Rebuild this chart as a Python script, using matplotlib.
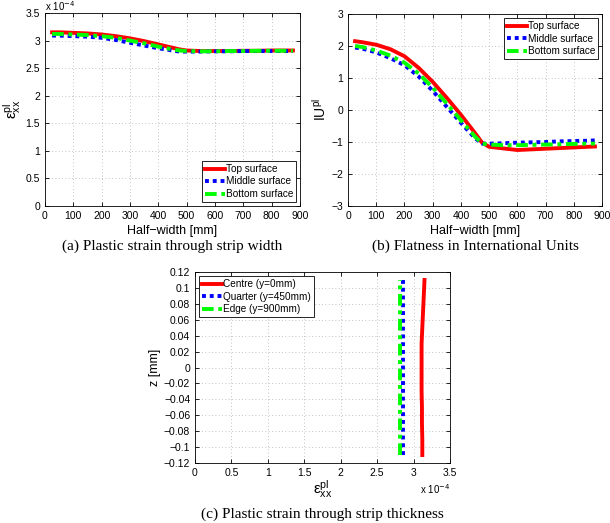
import matplotlib
matplotlib.use("Agg")
import matplotlib.pyplot as plt
import numpy as np

# ---- Data (strain values in units of 1e-4) ----
hw = [25, 50, 100, 150, 200, 250, 300, 350, 400, 450, 475, 500, 550, 600, 650, 700, 750, 800, 850, 875]
eps_top = [3.15, 3.15, 3.14, 3.13, 3.11, 3.08, 3.04, 2.99, 2.93, 2.87, 2.84, 2.82, 2.81, 2.81, 2.81, 2.815, 2.815, 2.82, 2.82, 2.82]
eps_mid = [3.09, 3.09, 3.08, 3.07, 3.05, 3.01, 2.96, 2.91, 2.86, 2.82, 2.80, 2.80, 2.80, 2.805, 2.805, 2.81, 2.81, 2.81, 2.81, 2.81]
eps_bot = [3.12, 3.12, 3.11, 3.10, 3.08, 3.05, 3.00, 2.95, 2.89, 2.84, 2.82, 2.81, 2.805, 2.805, 2.81, 2.81, 2.815, 2.815, 2.815, 2.815]

iu_top = [2.15, 2.12, 2.04, 1.90, 1.68, 1.32, 0.88, 0.38, -0.15, -0.72, -1.02, -1.15, -1.2, -1.25, -1.23, -1.21, -1.19, -1.17, -1.15, -1.14]
iu_mid = [1.95, 1.92, 1.80, 1.62, 1.40, 1.05, 0.60, 0.10, -0.40, -0.88, -1.05, -1.05, -1.04, -1.02, -1.01, -1.0, -0.98, -0.97, -0.96, -0.95]
iu_bot = [2.00, 1.97, 1.86, 1.70, 1.48, 1.14, 0.70, 0.20, -0.32, -0.83, -1.05, -1.08, -1.1, -1.1, -1.09, -1.08, -1.07, -1.06, -1.05, -1.05]

z = [-0.11, -0.09, -0.07, -0.05, -0.03, -0.01, 0.0, 0.01, 0.03, 0.05, 0.07, 0.09, 0.11]
c_centre = [3.12, 3.12, 3.115, 3.115, 3.11, 3.11, 3.11, 3.11, 3.11, 3.12, 3.13, 3.14, 3.15]
c_quarter = [2.86] * len(z)
c_edge = [2.81] * len(z)

W, H = 610, 523
fig = plt.figure(figsize=(W / 100, H / 100), dpi=100)

sans = ['Liberation Sans', 'DejaVu Sans']
serif = ['Liberation Serif', 'DejaVu Serif']
tfs = 7.5
lfs = 9

def style(ax):
    ax.grid(True, linestyle=(0, (1, 3)), color='#b0b0b0', linewidth=0.6)
    ax.tick_params(direction='in', labelsize=tfs, length=3, width=0.6, top=True, right=True)
    for s in ax.spines.values():
        s.set_linewidth(0.6)
    for lab in ax.get_xticklabels() + ax.get_yticklabels():
        lab.set_family(sans)

red = dict(color='#ff0000', linestyle='-', linewidth=2.8)
blue = dict(color='#0000ff', linestyle=(0, (1, 1)), linewidth=2.8)
green = dict(color='#00ff00', linestyle=(0, (3, 1.2, 1, 1.2)), linewidth=2.8)

def leg(ax, loc, **kw):
    l = ax.legend(loc=loc, prop={'family': sans, 'size': 7.2}, handlelength=2.0, handletextpad=0.1,
                  labelspacing=0.25, borderpad=0.3, fancybox=False, framealpha=1, borderaxespad=0.4, **kw)
    l.get_frame().set_edgecolor('black')
    l.get_frame().set_linewidth(0.6)
    return l

# (a)
ax1 = fig.add_axes([45 / W, 1 - 206 / H, 255 / W, 193 / H])
ax1.plot(hw, eps_top, label='Top surface', **red)
ax1.plot(hw, eps_mid, label='Middle surface', **blue)
ax1.plot(hw, eps_bot, label='Bottom surface', **green)
ax1.set_xlim(0, 900)
ax1.set_ylim(0, 3.5)
ax1.set_xticks(np.arange(0, 901, 100))
ax1.set_yticks(np.arange(0, 3.51, 0.5))
ax1.set_yticklabels(['0', '0.5', '1', '1.5', '2', '2.5', '3', '3.5'])
style(ax1)
ax1.set_xlabel('Half\u2212width [mm]', fontsize=lfs, family=sans, labelpad=3)
ax1.set_ylabel(r'$\mathregular{ε^{pl}_{xx}}$', fontsize=lfs + 2, family=sans, labelpad=2)
ax1.text(0.0, 1.0, r'x 10$^{-4}$', transform=ax1.transAxes, fontsize=7, family=sans, va='bottom', ha='left')
leg(ax1, 'lower right')
fig.text(172 / W, 1 - 246 / H, '(a) Plastic strain through strip width', family=serif, fontsize=11, ha='center', va='center')

# (b)
ax2 = fig.add_axes([348 / W, 1 - 206 / H, 254 / W, 192 / H])
ax2.plot(hw, iu_top, label='Top surface', **red)
ax2.plot(hw, iu_mid, label='Middle surface', **blue)
ax2.plot(hw, iu_bot, label='Bottom surface', **green)
ax2.set_xlim(0, 900)
ax2.set_ylim(-3, 3)
ax2.set_xticks(np.arange(0, 901, 100))
ax2.set_yticks(np.arange(-3, 4, 1))
ax2.set_yticklabels(['\u22123', '\u22122', '\u22121', '0', '1', '2', '3'])
style(ax2)
ax2.set_xlabel('Half\u2212width [mm]', fontsize=lfs, family=sans, labelpad=3)
ax2.set_ylabel(r'$\mathregular{IU^{pl}}$', fontsize=lfs + 1, family=sans, labelpad=2)
leg(ax2, 'upper right')
fig.text(475 / W, 1 - 246 / H, '(b) Flatness in International Units', family=serif, fontsize=11, ha='center', va='center')

# (c)
ax3 = fig.add_axes([195 / W, 1 - 463 / H, 255 / W, 191 / H])
ax3.plot(c_centre, z, label='Centre (y=0mm)', **red)
ax3.plot(c_quarter, z, label='Quarter (y=450mm)', **blue)
ax3.plot(c_edge, z, label='Edge (y=900mm)', **green)
ax3.set_xlim(0, 3.5)
ax3.set_ylim(-0.12, 0.12)
ax3.set_xticks(np.arange(0, 3.51, 0.5))
ax3.set_xticklabels(['0', '0.5', '1', '1.5', '2', '2.5', '3', '3.5'])
yt = np.round(np.arange(-0.12, 0.1201, 0.02), 2)
ax3.set_yticks(yt)
ax3.set_yticklabels([('\u2212' if v < 0 else '') + ('%g' % abs(v)) for v in yt])
style(ax3)
ax3.set_xlabel(r'$\mathregular{ε^{pl}_{xx}}$', fontsize=lfs + 2, family=sans, labelpad=0)
ax3.set_ylabel('z [mm]', fontsize=lfs, family=sans, labelpad=2)
ax3.text(1.0, -0.1, r'x 10$^{-4}$', transform=ax3.transAxes, fontsize=7, family=sans, va='top', ha='right')
leg(ax3, 'upper left')
fig.text(322 / W, 1 - 514 / H, '(c) Plastic strain through strip thickness', family=serif, fontsize=11, ha='center', va='center')

fig.savefig('out.png', dpi=100)
